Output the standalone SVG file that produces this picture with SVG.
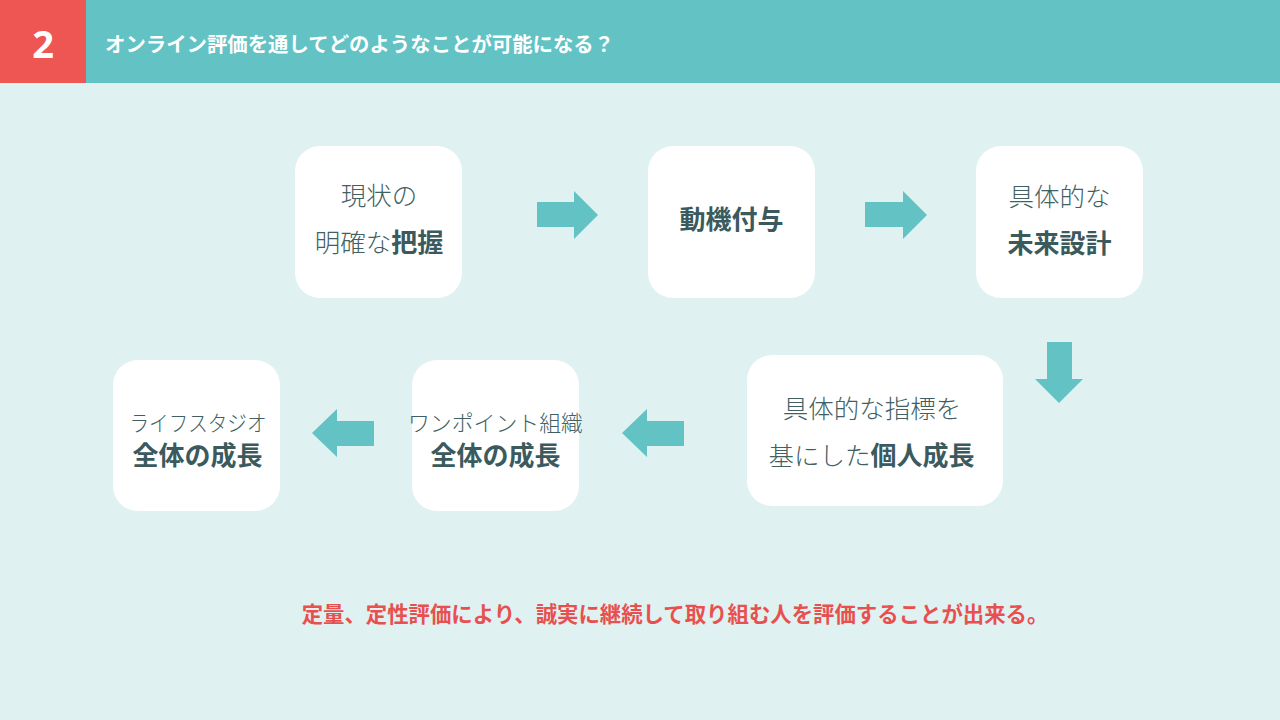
<svg xmlns="http://www.w3.org/2000/svg" width="1280" height="720" viewBox="0 0 1280 720">
<defs>
<style>
.box{fill:#ffffff}
.arw{fill:#62c2c4}
.t{font-family:"Noto Sans CJK JP","Noto Sans CJK SC",sans-serif;font-size:25.5px;fill:#3a5a5d;text-anchor:middle}
.n{font-weight:300;fill:#425f62}
.b{font-weight:700;font-size:26px}
.k{font-size:22px}
</style>
</defs>
<rect x="0" y="0" width="1280" height="720" fill="#e0f1f1"/>
<g id="header">
<rect x="0" y="0" width="1280" height="83" fill="#62c2c4"/>
<rect x="0" y="0" width="86" height="83" fill="#ee5654"/>
<text x="43" y="58" font-family="Open Sans, Liberation Sans, sans-serif" font-size="38" font-weight="700" fill="#ffffff" text-anchor="middle">2</text>
<text x="105" y="52" font-family="Noto Sans CJK JP, sans-serif" font-size="20.4" font-weight="700" fill="#ffffff">オンライン評価を通してどのようなことが可能になる？</text>
</g>
<g id="node1">
<rect class="box" x="295" y="146" width="167" height="152" rx="25"/>
<text class="t n" x="379" y="205">現状の</text>
<text class="t" x="379" y="252"><tspan class="n">明確な</tspan><tspan class="b">把握</tspan></text>
</g>
<g id="node2">
<rect class="box" x="648" y="146" width="167" height="152" rx="25"/>
<text class="t b" x="731.5" y="229">動機付与</text>
</g>
<g id="node3">
<rect class="box" x="976" y="146" width="167" height="152" rx="25"/>
<text class="t n" x="1059.5" y="206">具体的な</text>
<text class="t b" x="1059.5" y="253">未来設計</text>
</g>
<g id="node4">
<rect class="box" x="747" y="355" width="256" height="151" rx="25"/>
<text class="t n" x="872" y="418">具体的な指標を</text>
<text class="t" x="871.5" y="465"><tspan class="n">基にした</tspan><tspan class="b">個人成長</tspan></text>
</g>
<g id="node5">
<rect class="box" x="412" y="360" width="167" height="151" rx="25"/>
<text class="t n k" x="495.5" y="431" textLength="175" lengthAdjust="spacingAndGlyphs">ワンポイント組織</text>
<text class="t b" x="495.5" y="465">全体の成長</text>
</g>
<g id="node6">
<rect class="box" x="113" y="360" width="167" height="151" rx="25"/>
<text class="t n k" x="198" y="431" textLength="137" lengthAdjust="spacingAndGlyphs">ライフスタジオ</text>
<text class="t b" x="197.5" y="465">全体の成長</text>
</g>
<g id="connectors">
<polygon class="arw" points="537,202 574,202 574,191 598,215 574,239 574,227 537,227"/>
<polygon class="arw" points="865,202 903,202 903,191 927,215 903,239 903,227 865,227"/>
<polygon class="arw" points="1047,342 1072,342 1072,379 1083,379 1059,403 1035,379 1047,379"/>
<polygon class="arw" points="684,421 647,421 647,409 622,433 647,457 647,446 684,446"/>
<polygon class="arw" points="374,421 337,421 337,409 312,433 337,457 337,446 374,446"/>
</g>
<text x="675" y="622" font-family="Noto Sans CJK JP, sans-serif" font-size="21.4" font-weight="700" fill="#e8504f" text-anchor="middle">定量、定性評価により、誠実に継続して取り組む人を評価することが出来る。</text>
</svg>
